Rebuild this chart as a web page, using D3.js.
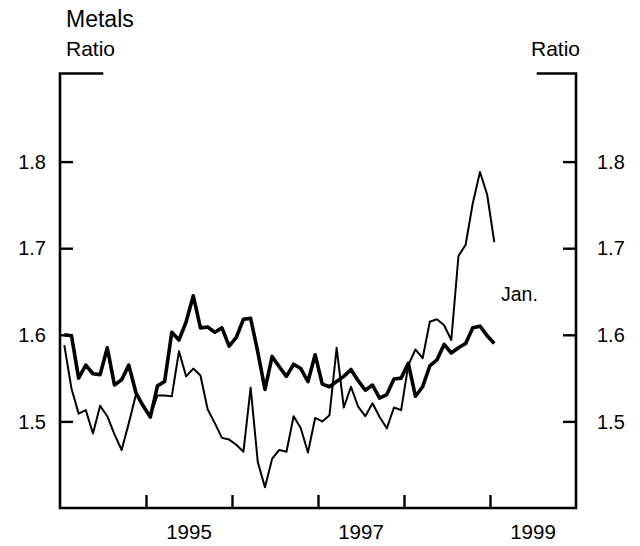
<!DOCTYPE html>
<html><head><meta charset="utf-8">
<script src="https://cdn.jsdelivr.net/npm/d3@7"></script>
<style>
html,body{margin:0;padding:0;background:#fff;}
text{font-family:"Liberation Sans",Arial,Helvetica,sans-serif;fill:#000;}
</style></head>
<body>
<svg id="chart" width="640" height="546"></svg>
<script>
// Monthly, Jan 1994 .. Jan 1999
const startYear = 1994;
const thickSeries = [1.600,1.599,1.550,1.565,1.555,1.554,1.585,1.542,1.548,1.565,
  1.533,1.518,1.505,1.541,1.546,1.603,1.594,1.615,1.645,1.608,
  1.609,1.603,1.608,1.587,1.597,1.618,1.619,1.580,1.537,1.575,
  1.563,1.552,1.566,1.561,1.546,1.577,1.543,1.540,1.546,1.552,
  1.560,1.547,1.536,1.542,1.527,1.531,1.549,1.550,1.567,1.529,
  1.540,1.564,1.571,1.589,1.579,1.585,1.590,1.608,1.610,1.599,1.590];
const thinSeries = [1.588,1.538,1.509,1.513,1.486,1.518,1.506,1.485,1.467,1.498,
  1.531,1.517,1.506,1.530,1.530,1.529,1.581,1.552,1.561,1.553,
  1.514,1.498,1.481,1.479,1.473,1.465,1.539,1.453,1.424,1.457,
  1.467,1.465,1.506,1.492,1.464,1.504,1.500,1.507,1.585,1.516,
  1.540,1.517,1.506,1.521,1.505,1.492,1.516,1.513,1.565,1.583,
  1.573,1.615,1.618,1.611,1.594,1.691,1.704,1.752,1.788,1.762,1.707];
const yTicks = [1.5, 1.6, 1.7, 1.8];
const yTickLabels = ["1.5", "1.6", "1.7", "1.8"];
const xTicks = [1995, 1996, 1997, 1998, 1999];
const xLabelYears = [1995, 1997, 1999];

const svg = d3.select("#chart");
const L = 60, R = 576, T = 73.5, B = 508;
const x = d3.scaleLinear().domain([1994, 2000]).range([L, R]);
const y = d3.scaleLinear().domain([1.4, 1.9]).range([B, 75]);
const mx = i => x(startYear + (i + 0.6) / 12);

// frame
const fr = svg.append("g").attr("stroke", "#000").attr("stroke-width", 2.6).attr("fill", "none");
fr.append("path").attr("d", `M${L+42},${T}H${L}V${B}H${R}V${T}H${R-38}`).attr("stroke-linejoin","miter").attr("stroke-linecap","square");

// y ticks (both sides, inward)
const yAxL = d3.axisRight(y).tickValues(yTicks).tickSize(13).tickFormat("");
const yAxR = d3.axisLeft(y).tickValues(yTicks).tickSize(13).tickFormat("");
const gl = svg.append("g").attr("transform", `translate(${L},0)`).call(yAxL);
const gr = svg.append("g").attr("transform", `translate(${R},0)`).call(yAxR);
[gl, gr].forEach(g => { g.select(".domain").remove(); g.selectAll("line").attr("stroke","#000").attr("stroke-width",2.4); });

// x ticks (upward)
const xAx = d3.axisTop(x).tickValues(xTicks).tickSize(13).tickFormat("");
const gx = svg.append("g").attr("transform", `translate(0,${B})`).call(xAx);
gx.select(".domain").remove();
gx.selectAll("line").attr("stroke","#000").attr("stroke-width",2.4);

// y labels
svg.selectAll(".yl").data(yTicks).enter().append("text")
  .attr("x", 46).attr("y", d => y(d)).attr("dy", "0.36em").attr("text-anchor","end")
  .attr("font-size", 20).text((d,i) => yTickLabels[i]);
svg.selectAll(".yr").data(yTicks).enter().append("text")
  .attr("x", 597).attr("y", d => y(d)).attr("dy", "0.36em").attr("text-anchor","start")
  .attr("font-size", 20).text((d,i) => yTickLabels[i]);

// x labels, centred in year
svg.selectAll(".xl").data(xLabelYears).enter().append("text")
  .attr("x", d => x(d + 0.5)).attr("y", 539).attr("text-anchor","middle")
  .attr("font-size", 20.5).text(d => d);

// titles
svg.append("text").attr("x", 66).attr("y", 27).attr("font-size", 23).text("Metals");
svg.append("text").attr("x", 66).attr("y", 56).attr("font-size", 21).text("Ratio");
svg.append("text").attr("x", 580).attr("y", 56).attr("text-anchor","end").attr("font-size", 21).text("Ratio");
svg.append("text").attr("x", 501).attr("y", 300.5).attr("font-size", 19.5).text("Jan.");

// lines
const line = d3.line().x((d,i) => mx(i)).y(d => y(d));
svg.append("path").datum(thinSeries).attr("d", line).attr("fill","none")
  .attr("stroke","#000").attr("stroke-width",2).attr("stroke-linejoin","round");
svg.append("path").datum(thickSeries).attr("d", line).attr("fill","none")
  .attr("stroke","#000").attr("stroke-width",3.6).attr("stroke-linejoin","round");
</script>
</body></html>
